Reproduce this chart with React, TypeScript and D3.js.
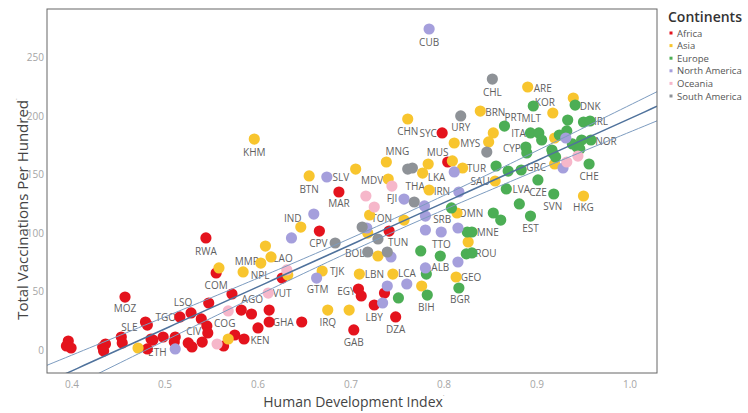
import React from "react";
import * as d3 from "d3";

type Pt = [string, number, number]; // [ISO code label, HDI, total vaccinations per hundred]

const AFRICA: Pt[] = [
  ["", 0.396, 7.7], ["", 0.394, 3.4], ["", 0.399, 1.7], ["", 0.436, 5.1], ["", 0.433, 2.6],
  ["", 0.434, -0.9], ["", 0.453, 11.1], ["", 0.454, 6.0], ["MOZ", 0.457, 45.2], ["SLE", 0.479, 23.9],
  ["", 0.481, 21.3], ["", 0.485, 9.4], ["", 0.487, 8.5], ["", 0.498, 11.1], ["", 0.511, 11.1],
  ["", 0.510, 6.8], ["ETH", 0.481, 0.9], ["TGO", 0.516, 28.2], ["LSO", 0.528, 31.6], ["", 0.539, 26.5],
  ["", 0.545, 20.5], ["CIV", 0.546, 14.5], ["", 0.540, 6.8], ["", 0.525, 6.0], ["", 0.529, 2.6],
  ["", 0.547, 40.1], ["COM", 0.555, 65.7], ["", 0.572, 47.8], ["AGO", 0.582, 34.1], ["", 0.593, 30.7],
  ["COG", 0.575, 12.8], ["KEN", 0.585, 9.4], ["", 0.563, 3.4], ["", 0.600, 18.8], ["", 0.612, 34.1],
  ["GHA", 0.612, 23.9], ["", 0.647, 23.9], ["RWA", 0.544, 95.6], ["", 0.626, 61.4], ["CPV", 0.666, 101.5],
  ["MAR", 0.687, 134.8], ["EGY", 0.708, 52.0], ["", 0.711, 46.1], ["", 0.736, 48.6], ["LBY", 0.725, 38.4],
  ["DZA", 0.748, 28.2], ["GAB", 0.703, 17.1], ["TUN", 0.741, 101.5], ["SYC", 0.798, 185.2], ["MUS", 0.804, 160.4],
];

const ASIA: Pt[] = [
  ["", 0.471, 1.7], ["", 0.558, 70.0], ["NPL", 0.584, 66.6], ["MMR", 0.603, 74.2], ["", 0.608, 88.7],
  ["LAO", 0.614, 79.4], ["", 0.568, 9.4], ["", 0.632, 64.0], ["IND", 0.646, 104.9], ["TJK", 0.669, 67.4],
  ["IRQ", 0.675, 34.1], ["", 0.698, 34.1], ["LBN", 0.709, 64.8], ["LCA", 0.745, 64.8], ["", 0.776, 54.6],
  ["TON", 0.720, 115.2], ["", 0.718, 99.8], ["", 0.729, 80.2], ["", 0.757, 110.9], ["KHM", 0.596, 180.0],
  ["BTN", 0.655, 148.5], ["", 0.705, 154.4], ["MNG", 0.738, 160.4], ["MDV", 0.740, 145.9], ["CHN", 0.761, 197.1],
  ["", 0.783, 158.7], ["LKA", 0.777, 151.0], ["", 0.809, 161.3], ["THA", 0.784, 136.5], ["TUR", 0.820, 155.3],
  ["MYS", 0.811, 176.6], ["", 0.848, 177.5], ["", 0.853, 185.2], ["BRN", 0.839, 203.9], ["ARE", 0.890, 224.4],
  ["KOR", 0.917, 202.2], ["", 0.939, 215.0], ["", 0.919, 180.9], ["", 0.919, 158.7], ["HKG", 0.950, 131.4],
  ["SAU", 0.855, 144.2], ["OMN", 0.814, 116.9], ["", 0.826, 92.2], ["GEO", 0.813, 62.3],
];

const EUROPE: Pt[] = [
  ["DNK", 0.941, 209.0], ["MLT", 0.896, 208.2], ["PRT", 0.865, 191.1], ["", 0.933, 196.2], ["", 0.950, 194.5],
  ["IRL", 0.957, 195.4], ["ITA", 0.893, 185.2], ["", 0.902, 185.2], ["", 0.905, 179.2], ["", 0.932, 186.9],
  ["", 0.924, 183.4], ["NOR", 0.958, 179.2], ["", 0.948, 179.2], ["", 0.938, 175.8], ["", 0.943, 173.2],
  ["", 0.946, 171.5], ["CYP", 0.888, 173.2], ["", 0.889, 168.1], ["", 0.916, 170.6], ["", 0.917, 168.1],
  ["", 0.920, 164.7], ["CHE", 0.956, 158.7], ["", 0.856, 157.0], ["", 0.869, 152.7], ["GRC", 0.883, 153.6],
  ["CZE", 0.901, 145.1], ["LVA", 0.867, 137.4], ["SVN", 0.918, 133.1], ["", 0.881, 124.6], ["EST", 0.893, 114.3],
  ["", 0.853, 116.9], ["", 0.861, 110.9], ["", 0.808, 121.2], ["", 0.825, 100.7], ["MNE", 0.830, 100.7],
  ["", 0.824, 82.0], ["ROU", 0.830, 82.8], ["", 0.775, 84.5], ["TTO", 0.796, 80.2], ["ALB", 0.781, 64.8],
  ["BIH", 0.782, 46.9], ["", 0.751, 44.4], ["BGR", 0.816, 52.9],
];

const NORTH_AMERICA: Pt[] = [
  ["CUB", 0.784, 273.9], ["SLV", 0.674, 147.6], ["", 0.660, 116.0], ["", 0.636, 95.6], ["GTM", 0.663, 61.4],
  ["", 0.717, 104.1], ["", 0.743, 79.4], ["", 0.739, 54.6], ["", 0.734, 40.1], ["", 0.760, 56.3],
  ["FJI", 0.757, 128.8], ["", 0.779, 122.9], ["", 0.780, 114.3], ["IRN", 0.816, 134.8], ["", 0.811, 151.9],
  ["", 0.780, 102.4], ["SRB", 0.797, 100.7], ["", 0.815, 104.1], ["", 0.815, 75.1], ["", 0.780, 70.0],
  ["", 0.928, 155.3], ["", 0.931, 180.9], ["", 0.511, 0.9],
];

const OCEANIA: Pt[] = [
  ["", 0.556, 5.1], ["", 0.568, 33.3], ["VUT", 0.611, 48.6], ["", 0.631, 68.3], ["", 0.716, 131.4],
  ["", 0.725, 122.0], ["", 0.744, 139.9], ["", 0.932, 160.4], ["", 0.944, 165.5],
];

const SOUTH_AMERICA: Pt[] = [
  ["CHL", 0.852, 231.2], ["URY", 0.818, 199.7], ["", 0.846, 168.9], ["", 0.761, 154.4], ["", 0.766, 155.3],
  ["", 0.768, 126.3], ["", 0.712, 104.9], ["", 0.729, 94.7], ["", 0.683, 91.3], ["BOL", 0.718, 83.6],
  ["", 0.739, 83.6],
];

const CONTINENTS = ["Africa", "Asia", "Europe", "North America", "Oceania", "South America"];
const SERIES = [AFRICA, ASIA, EUROPE, NORTH_AMERICA, OCEANIA, SOUTH_AMERICA];
const X_TICKS = [0.4, 0.5, 0.6, 0.7, 0.8, 0.9, 1.0];
const Y_TICKS = [0, 50, 100, 150, 200, 250];

// styling
const COLORS = ["#e4131d", "#f8c52e", "#4cae55", "#a59fdc", "#f6b7ca", "#8e9297"];
const LABEL_OFFSETS: Record<string, [number, number]> = {
  CUB: [0, 13], CHL: [0, 13], ARE: [15, 1], KOR: [-8, -11], DNK: [15, 1], MLT: [-2, 12], PRT: [9, -9],
  BRN: [15, 1], URY: [0, 11], CHN: [0, 12], SYC: [-14, 0], IRL: [11, 0], ITA: [-12, 0], MYS: [16, 0],
  CYP: [-14, 1], NOR: [15, 1], MNG: [11, -11], MUS: [-10, -10], TUR: [14, 0], LKA: [14, 4], BTN: [0, 13],
  SLV: [14, 0], KHM: [0, 13], MAR: [0, 11], MDV: [-16, 1], THA: [-14, -4], IRN: [-17, -1], FJI: [-12, -1],
  TON: [12, 3], SRB: [1, -13], OMN: [14, 0], SAU: [-15, 0], GRC: [15, -3], LVA: [15, 0], CZE: [0, 12],
  SVN: [-1, 12], EST: [0, 12], CHE: [0, 12], HKG: [0, 11], MNE: [16, 0], ROU: [14, 0], TTO: [1, -12],
  ALB: [14, -7], GEO: [15, 0], BGR: [1, 11], BIH: [-1, 12], DZA: [0, 12], LBY: [0, 12], GAB: [0, 12],
  EGY: [-12, 2], LBN: [15, 0], LCA: [14, -1], TJK: [15, 0], GTM: [1, 11], IRQ: [0, 12], BOL: [-13, 1],
  TUN: [9, 11], CPV: [-1, 12], IND: [-8, -9], LAO: [12, 1], MMR: [-14, -2], NPL: [17, 3], VUT: [14, 0],
  COM: [0, 12], RWA: [0, 13], AGO: [11, -11], COG: [-10, -12], CIV: [-14, -2], KEN: [16, 1], GHA: [14, 0],
  ETH: [10, 3], TGO: [-14, 0], SLE: [-16, 5], LSO: [-8, -11], MOZ: [0, 11],
};

const W = 748, H = 413;
const P = { left: 47, right: 657, top: 9, bottom: 373 };
const FONT = "'Open Sans', 'Noto Sans', sans-serif";

export default function App() {
  const x = d3.scaleLinear().domain([0.4 - 25 / 930, 0.4 + 585 / 930]).range([P.left, P.right]);
  const y = d3.scaleLinear().domain([(350 - P.bottom) / 1.172, (350 - P.top) / 1.172]).range([P.bottom, P.top]);

  const all = SERIES.flat();
  const n = all.length;
  const mx = d3.mean(all, (d) => d[1])!;
  const my = d3.mean(all, (d) => d[2])!;
  const sxx = d3.sum(all, (d) => (d[1] - mx) ** 2);
  const sxy = d3.sum(all, (d) => (d[1] - mx) * (d[2] - my));
  const b = sxy / sxx;
  const a = my - b * mx;
  const sse = d3.sum(all, (d) => (d[2] - (a + b * d[1])) ** 2);
  const s = Math.sqrt(sse / (n - 2));
  const t = 1.97;
  const xs = d3.range(0, 101).map((i) => x.domain()[0] + (i / 100) * (x.domain()[1] - x.domain()[0]));
  const band = (xv: number) => t * s * Math.sqrt(1 / n + (xv - mx) ** 2 / sxx);
  const line = d3.line<[number, number]>().x((d) => x(d[0])).y((d) => y(d[1]));
  const mainPath = line(xs.map((v) => [v, a + b * v]))!;
  const upPath = line(xs.map((v) => [v, a + b * v + band(v)]))!;
  const loPath = line(xs.map((v) => [v, a + b * v - band(v)]))!;

  return (
    <svg width={W} height={H} style={{ position: "absolute", left: 0, top: 0, background: "#fff" }} fontFamily={FONT}>
      <defs>
        <clipPath id="plot">
          <rect x={P.left} y={P.top} width={P.right - P.left} height={P.bottom - P.top} />
        </clipPath>
      </defs>
      {Y_TICKS.map((v) => (
        <text key={v} x={P.left - 3} y={y(v)} textAnchor="end" dominantBaseline="central" fontSize={10} fill="#a5a5a5">
          {v}
        </text>
      ))}
      {X_TICKS.map((v) => (
        <text key={v} x={x(v)} y={384} textAnchor="middle" dominantBaseline="central" fontSize={10} fill="#a5a5a5">
          {d3.format(".1f")(v)}
        </text>
      ))}
      <text transform={`translate(22,${(P.top + P.bottom) / 2 + 18}) rotate(-90)`} textAnchor="middle" dominantBaseline="central" fontSize={15} fill="#444">
        Total Vaccinations Per Hundred<tspan fontSize={7} dy={-6} fill="#999">·</tspan>
      </text>
      <text x={(P.left + P.right) / 2 + 2} y={401} textAnchor="middle" dominantBaseline="central" fontSize={14} fill="#444">
        Human Development Index<tspan fontSize={7} dy={-6} fill="#999">·</tspan>
      </text>

      <g clipPath="url(#plot)">
        {SERIES.map((ser) =>
          ser
            .filter((d) => d[0] && LABEL_OFFSETS[d[0]])
            .map((d) => (
              <text
                key={d[0]}
                x={x(d[1]) + LABEL_OFFSETS[d[0]][0]}
                y={y(d[2]) + LABEL_OFFSETS[d[0]][1]}
                textAnchor="middle"
                dominantBaseline="central"
                fontSize={10}
                fill="#5f5f5f"
              >
                {d[0]}
              </text>
            ))
        )}
        {SERIES.map((ser, si) =>
          ser.map((d, i) => <circle key={`${si}-${i}`} cx={x(d[1])} cy={y(d[2])} r={5.6} fill={COLORS[si]} />)
        )}
        <path d={upPath} fill="none" stroke="#7d9cc0" strokeWidth={1} />
        <path d={loPath} fill="none" stroke="#7d9cc0" strokeWidth={1} />
        <path d={mainPath} fill="none" stroke="#4f729c" strokeWidth={1.5} />
      </g>
      <rect x={P.left} y={P.top} width={P.right - P.left} height={P.bottom - P.top} fill="none" stroke="#666" strokeWidth={1} />

      <text x={668} y={16} fontSize={14} fontWeight={600} fill="#333" dominantBaseline="central">
        Continents
      </text>
      {CONTINENTS.map((c, i) => (
        <g key={c} transform={`translate(0,${33 + i * 12.6})`}>
          <rect x={669.5} y={-1.5} width={3} height={3} fill={COLORS[i]} />
          <text x={677} y={0} fontSize={9.5} fill="#555" dominantBaseline="central">
            {c}
          </text>
        </g>
      ))}
    </svg>
  );
}
